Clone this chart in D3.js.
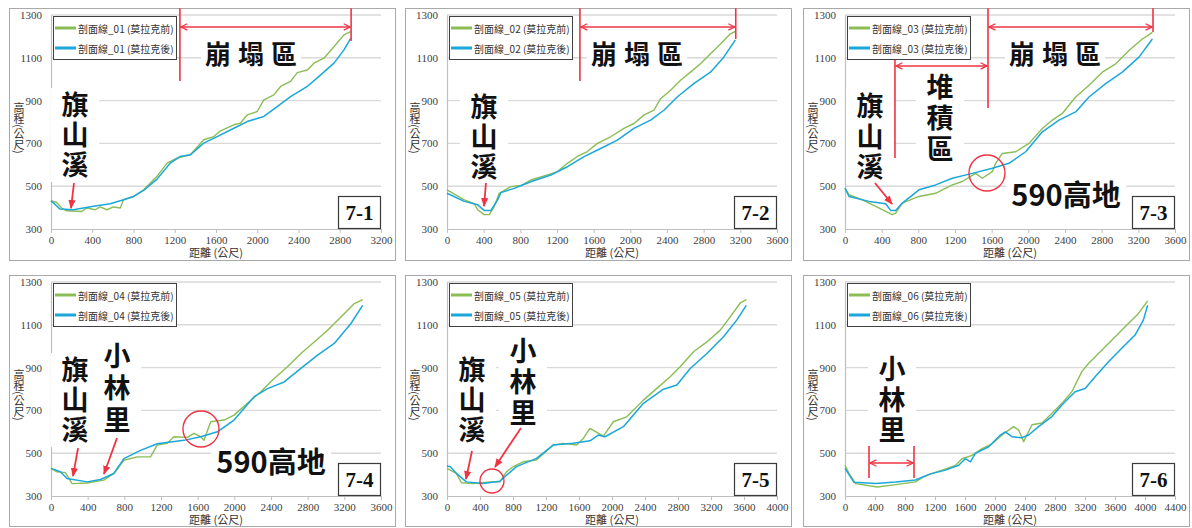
<!DOCTYPE html>
<html>
<head>
<meta charset="utf-8">
<script src="https://cdn.jsdelivr.net/npm/d3@7"></script>
<style>
body { margin: 0; background: #fff; }
svg { display: block; }
</style>
</head>
<body>
<div id="container"></div>
<script>
/**
 * DATA (distance in m, elevation in m)
 * */
const yTicks = [300, 500, 700, 900, 1100, 1300];
const xMaxes = [3200, 3600, 3600, 3600, 4000, 4400];
const panelLabels = ["7-1", "7-2", "7-3", "7-4", "7-5", "7-6"];
const lineNames = ["剖面線_01", "剖面線_02", "剖面線_03", "剖面線_04", "剖面線_05", "剖面線_06"];
const seriesSuffix = ["(莫拉克前)", "(莫拉克後)"];

const line01Before = [[0,432],[55,424],[104,398],[152,385],[298,382],[347,398],[428,390],[477,403],[541,390],[606,403],[671,398],[704,437],[801,452],[898,483],[1028,546],[1125,608],[1222,631],[1352,647],[1481,717],[1579,732],[1644,759],[1773,787],[1838,795],[1903,833],[2000,849],[2064,903],[2161,927],[2226,966],[2323,990],[2388,1031],[2485,1043],[2550,1075],[2647,1098],[2744,1152],[2841,1207],[2906,1222]];
const line01After = [[0,432],[88,393],[217,390],[412,406],[574,418],[704,437],[801,452],[898,480],[1028,533],[1157,608],[1254,639],[1352,647],[1481,701],[1611,732],[1773,771],[1903,802],[2064,826],[2193,872],[2323,919],[2485,966],[2615,1020],[2744,1075],[2841,1137],[2906,1191]];

const line02Before = [[0,483],[189,436],[298,418],[334,390],[406,367],[461,367],[515,405],[570,467],[697,498],[806,503],[914,529],[1096,553],[1205,568],[1314,607],[1422,639],[1531,662],[1640,700],[1785,731],[1930,770],[2039,793],[2148,832],[2257,855],[2330,909],[2439,948],[2548,995],[2656,1033],[2765,1072],[2874,1119],[2983,1164],[3092,1212],[3146,1224]];
const line02After = [[0,467],[189,429],[334,413],[406,387],[479,387],[552,436],[588,470],[733,490],[914,521],[1132,552],[1314,591],[1495,638],[1677,676],[1858,715],[2039,770],[2221,809],[2366,855],[2511,917],[2692,979],[2874,1033],[3019,1103],[3146,1184]];

const line03Before = [[0,491],[44,460],[189,436],[407,390],[516,367],[553,374],[625,421],[807,452],[989,467],[1062,483],[1171,506],[1280,522],[1425,560],[1498,537],[1607,568],[1644,607],[1716,653],[1862,661],[2007,700],[2153,770],[2262,809],[2371,840],[2516,917],[2662,972],[2807,1033],[2953,1072],[3098,1134],[3244,1188],[3353,1219]];
const line03After = [[0,491],[44,452],[262,429],[444,418],[498,387],[553,387],[625,421],[807,483],[989,506],[1171,537],[1389,560],[1607,584],[1789,607],[1971,661],[2153,754],[2335,809],[2516,847],[2662,917],[2844,979],[3025,1033],[3207,1103],[3353,1188]];

const line04Before = [[0,429],[66,413],[157,409],[230,358],[394,361],[576,374],[686,405],[795,467],[940,483],[1086,483],[1159,538],[1268,546],[1341,577],[1487,574],[1560,593],[1633,577],[1669,561],[1742,647],[1888,655],[1997,678],[2143,733],[2289,787],[2434,849],[2580,904],[2726,966],[2872,1020],[3017,1075],[3163,1137],[3309,1199],[3400,1218]];
const line04After = [[0,429],[102,413],[175,382],[394,366],[539,377],[686,405],[795,475],[977,513],[1159,544],[1450,560],[1633,577],[1815,600],[1997,655],[2216,764],[2362,802],[2544,833],[2726,896],[2908,958],[3090,1013],[3272,1106],[3400,1191]];

const line05Before = [[0,429],[113,406],[174,362],[316,358],[518,366],[640,366],[721,413],[802,437],[923,460],[1085,468],[1287,538],[1409,546],[1571,538],[1652,569],[1733,616],[1895,580],[2016,647],[2178,670],[2381,748],[2543,803],[2705,857],[2826,904],[2988,974],[3150,1020],[3312,1075],[3433,1137],[3555,1202],[3628,1218]];
const line05After = [[0,440],[40,437],[113,406],[235,366],[437,358],[640,369],[700,390],[842,437],[1085,476],[1287,538],[1530,546],[1733,558],[1834,585],[1915,577],[2138,624],[2381,733],[2624,799],[2786,819],[2948,896],[3150,966],[3352,1044],[3514,1123],[3628,1191]];

const line06Before = [[0,444],[53,406],[142,358],[430,342],[674,353],[940,366],[1029,386],[1162,406],[1295,421],[1472,443],[1561,474],[1694,490],[1827,521],[1961,544],[2094,585],[2182,608],[2249,624],[2315,608],[2382,554],[2493,633],[2627,641],[2804,702],[2892,733],[3025,787],[3158,881],[3247,919],[3380,966],[3513,1013],[3646,1059],[3778,1106],[3911,1152],[4035,1212]];
const line06After = [[0,429],[120,364],[408,358],[674,365],[940,375],[1118,401],[1339,421],[1517,444],[1606,475],[1672,460],[1738,499],[1916,530],[2071,585],[2137,600],[2226,577],[2359,572],[2448,585],[2581,624],[2759,671],[2892,725],[3069,787],[3202,802],[3335,857],[3513,927],[3690,990],[3867,1052],[3978,1122],[4035,1191]];

const beforeLines = [line01Before, line02Before, line03Before, line04Before, line05Before, line06Before];
const afterLines = [line01After, line02After, line03After, line04After, line05After, line06After];

// red annotations, placed in data units (distance, elevation)
const notes = [
  [
    {type: "vline", x: 1250, y1: 1332, y2: 992},
    {type: "vline", x: 2910, y1: 1332, y2: 1178},
    {type: "span", x1: 1250, x2: 2910, y: 1244},
    {type: "htext", text: "崩塌區", x: 1939, y: 1127},
    {type: "vtext", text: "旗山溪", x: 233, y1: 879, y2: 599},
    {type: "arrow", from: [223, 515], to: [194, 398]}
  ],
  [
    {type: "vline", x: 1450, y1: 1332, y2: 992},
    {type: "vline", x: 3150, y1: 1332, y2: 1188},
    {type: "span", x1: 1450, x2: 3150, y: 1244},
    {type: "htext", text: "崩塌區", x: 2073, y: 1127},
    {type: "vtext", text: "旗山溪", x: 404, y1: 870, y2: 590},
    {type: "arrow", from: [425, 515], to: [404, 407]}
  ],
  [
    {type: "vline", x: 1560, y1: 1332, y2: 865},
    {type: "vline", x: 3360, y1: 1332, y2: 1221},
    {type: "span", x1: 1560, x2: 3360, y: 1244},
    {type: "htext", text: "崩塌區", x: 2291, y: 1127},
    {type: "vline", x: 545, y1: 1090, y2: 632},
    {type: "span", x1: 545, x2: 1560, y: 1062},
    {type: "vtext", text: "堆積區", x: 1036, y1: 964, y2: 674},
    {type: "vtext", text: "旗山溪", x: 273, y1: 875, y2: 590},
    {type: "arrow", from: [327, 515], to: [513, 417]},
    {type: "circle", x: 1549, y: 562, r: 18},
    {type: "word", text: "590高地", x: 2411, y: 468}
  ],
  [
    {type: "vtext", text: "旗山溪", x: 262, y1: 889, y2: 608},
    {type: "vtext", text: "小林里", x: 720, y1: 955, y2: 655},
    {type: "arrow", from: [295, 524], to: [240, 393]},
    {type: "arrow", from: [720, 571], to: [578, 403]},
    {type: "circle", x: 1636, y: 613, r: 18},
    {type: "word", text: "590高地", x: 2400, y: 468}
  ],
  [
    {type: "vtext", text: "旗山溪", x: 303, y1: 889, y2: 608},
    {type: "vtext", text: "小林里", x: 921, y1: 978, y2: 688},
    {type: "arrow", from: [303, 510], to: [230, 379]},
    {type: "arrow", from: [897, 618], to: [582, 436]},
    {type: "circle", x: 545, y: 370, r: 12}
  ],
  [
    {type: "vtext", text: "小林里", x: 627, y1: 893, y2: 608},
    {type: "vline", x: 320, y1: 534, y2: 384},
    {type: "vline", x: 920, y1: 534, y2: 384},
    {type: "span", x1: 320, x2: 920, y: 454}
  ]
];

/**
 * LAYOUT
 * */
const width = 1192, height = 528;
const frameX = [9, 405, 803];
const frameY = [8, 275];
const frameH = [252, 251];
const frameW = 386;
const plotW = 330, plotH = 214;
const capSize = 27;

const GREEN = "#8bbd55";
const BLUE = "#1aa7da";
const RED = "#ef3343";
const serif = "'Liberation Serif', 'Times New Roman', serif";
const cjk = "'Noto Sans CJK TC', 'Noto Sans CJK SC', sans-serif";

const svg = d3.select("#container")
  .append("svg")
  .attr("width", width)
  .attr("height", height);

const defs = svg.append("defs");
defs.append("marker")
  .attr("id", "head")
  .attr("viewBox", "0 0 10 10")
  .attr("refX", 9).attr("refY", 5)
  .attr("markerWidth", 9).attr("markerHeight", 9)
  .attr("markerUnits", "userSpaceOnUse")
  .attr("orient", "auto-start-reverse")
  .append("path")
  .attr("d", "M0,1 L10,5 L0,9 Z")
  .attr("fill", RED);
defs.append("marker")
  .attr("id", "chev")
  .attr("viewBox", "0 0 10 10")
  .attr("refX", 9).attr("refY", 5)
  .attr("markerWidth", 8).attr("markerHeight", 8)
  .attr("markerUnits", "userSpaceOnUse")
  .attr("orient", "auto-start-reverse")
  .append("path")
  .attr("d", "M1,1 L9,5 L1,9")
  .attr("fill", "none")
  .attr("stroke", RED)
  .attr("stroke-width", 1.6);

xMaxes.forEach((xMax, i) => drawPanel(i, xMax));

function drawPanel(i, xMax) {
  const col = i % 3, row = Math.floor(i / 3);
  const fx = frameX[col], fy = frameY[row];
  const left = fx + 42, top = fy + 7;
  const bottom = top + plotH, right = left + plotW;

  const x = d3.scaleLinear().domain([0, xMax]).range([left, right]);
  const y = d3.scaleLinear().domain([300, 1300]).range([bottom, top]);

  const g = svg.append("g").attr("class", "panel");

  // frame
  g.append("rect")
    .attr("x", fx + 0.5).attr("y", fy + 0.5)
    .attr("width", frameW).attr("height", frameH[row])
    .attr("fill", "#fff")
    .attr("stroke", "#a9a9a9");

  // gridlines
  g.selectAll("line.grid")
    .data(yTicks.slice(1))
    .join("line")
    .attr("class", "grid")
    .attr("x1", left).attr("x2", right)
    .attr("y1", d => y(d)).attr("y2", d => y(d))
    .attr("stroke", "#d9d9d9")
    .attr("stroke-width", 1.4);

  // axes
  const xAxis = d3.axisBottom(x)
    .tickValues(d3.range(0, xMax + 1, 400))
    .tickFormat(d3.format("d"))
    .tickSize(4).tickSizeOuter(0).tickPadding(3);
  const gx = g.append("g").attr("transform", `translate(0,${bottom})`).call(xAxis);
  const yAxis = d3.axisLeft(y).tickValues(yTicks)
    .tickFormat(d3.format("d"))
    .tickSize(0).tickPadding(9);
  const gy = g.append("g").attr("transform", `translate(${left},0)`).call(yAxis);
  [gx, gy].forEach(a => {
    a.select(".domain").attr("stroke", "#bfbfbf").attr("stroke-width", 1.2);
    a.selectAll(".tick line").attr("stroke", "#bfbfbf");
    a.selectAll("text")
      .attr("font-family", serif)
      .attr("font-size", 11)
      .attr("fill", "#404040");
  });

  g.append("text")
    .attr("x", (left + right) / 2).attr("y", bottom + 28)
    .attr("text-anchor", "middle")
    .attr("font-family", cjk).attr("font-size", 11).attr("fill", "#333")
    .text("距離 (公尺)");
  g.append("text")
    .attr("x", fx + 10).attr("y", top + 113)
    .attr("text-anchor", "middle")
    .style("writing-mode", "vertical-rl")
    .attr("font-family", cjk).attr("font-size", 11).attr("fill", "#333")
    .text("高程(公尺)");

  // white patches behind the big captions
  const panelNotes = notes[i];
  panelNotes.forEach(n => {
    if (n.type === "vtext") {
      g.append("rect")
        .attr("x", x(n.x) - 24).attr("y", y(n.y1) - 17)
        .attr("width", 48).attr("height", y(n.y2) - y(n.y1) + 34)
        .attr("fill", "#fff");
    } else if (n.type === "htext") {
      g.append("rect")
        .attr("x", x(n.x) - 50).attr("y", y(n.y) - 15)
        .attr("width", 100).attr("height", 30)
        .attr("fill", "#fff");
    } else if (n.type === "word") {
      g.append("rect")
        .attr("x", x(n.x) - 60).attr("y", y(n.y) - 16)
        .attr("width", 120).attr("height", 32)
        .attr("fill", "#fff");
    }
  });

  // profile lines
  const line = d3.line().x(d => x(d[0])).y(d => y(d[1]));
  g.append("path")
    .datum(beforeLines[i])
    .attr("d", line)
    .attr("fill", "none")
    .attr("stroke", GREEN)
    .attr("stroke-width", 1.4)
    .attr("stroke-linejoin", "round");
  g.append("path")
    .datum(afterLines[i])
    .attr("d", line)
    .attr("fill", "none")
    .attr("stroke", BLUE)
    .attr("stroke-width", 1.5)
    .attr("stroke-linejoin", "round");

  // legend
  const lg = g.append("g").attr("transform", `translate(${left + 2},${top + 1})`);
  lg.append("rect")
    .attr("x", 0.5).attr("y", 0.5)
    .attr("width", 123).attr("height", 43)
    .attr("fill", "#fff")
    .attr("stroke", "#404040");
  const rows = lg.selectAll("g.row")
    .data(seriesSuffix)
    .join("g")
    .attr("class", "row")
    .attr("transform", (d, k) => `translate(0,${12 + k * 20})`);
  rows.append("line")
    .attr("x1", 2).attr("x2", 23)
    .attr("stroke", (d, k) => k === 0 ? GREEN : BLUE)
    .attr("stroke-width", 3);
  rows.append("text")
    .attr("x", 25).attr("y", 0)
    .attr("dominant-baseline", "central")
    .attr("font-family", cjk).attr("font-size", 10).attr("fill", "#333")
    .text(d => `${lineNames[i]} ${d}`);

  // red marks
  panelNotes.forEach(n => {
    if (n.type === "vline") {
      g.append("line")
        .attr("x1", x(n.x)).attr("x2", x(n.x))
        .attr("y1", y(n.y1)).attr("y2", y(n.y2))
        .attr("stroke", RED).attr("stroke-width", 1.6);
    } else if (n.type === "span") {
      g.append("line")
        .attr("x1", x(n.x1) + 1).attr("x2", x(n.x2) - 1)
        .attr("y1", y(n.y)).attr("y2", y(n.y))
        .attr("stroke", RED).attr("stroke-width", 1.4)
        .attr("marker-start", "url(#chev)")
        .attr("marker-end", "url(#chev)");
    } else if (n.type === "arrow") {
      g.append("line")
        .attr("x1", x(n.from[0])).attr("y1", y(n.from[1]))
        .attr("x2", x(n.to[0])).attr("y2", y(n.to[1]))
        .attr("stroke", RED).attr("stroke-width", 1.8)
        .attr("marker-end", "url(#head)");
    } else if (n.type === "circle") {
      g.append("circle")
        .attr("cx", x(n.x)).attr("cy", y(n.y)).attr("r", n.r)
        .attr("fill", "none")
        .attr("stroke", RED).attr("stroke-width", 1.4);
    }
  });

  // captions
  panelNotes.forEach(n => {
    if (n.type === "vtext") {
      const nChars = Array.from(n.text).length;
      const step = (y(n.y2) - y(n.y1)) / (nChars - 1);
      g.append("text")
        .attr("x", x(n.x))
        .attr("y", y(n.y1) - capSize / 2)
        .style("writing-mode", "vertical-rl")
        .attr("letter-spacing", step - capSize)
        .attr("font-family", cjk).attr("font-weight", 700)
        .attr("font-size", capSize).attr("fill", "#111")
        .text(n.text);
    } else if (n.type === "htext") {
      const chars = Array.from(n.text);
      g.append("text")
        .attr("text-anchor", "middle")
        .attr("dominant-baseline", "central")
        .attr("font-family", cjk).attr("font-weight", 700)
        .attr("font-size", 26).attr("fill", "#111")
        .selectAll("tspan")
        .data(chars)
        .join("tspan")
        .attr("x", (d, k) => x(n.x) + (k - 1) * 33)
        .attr("y", y(n.y))
        .text(d => d);
    } else if (n.type === "word") {
      g.append("text")
        .attr("x", x(n.x)).attr("y", y(n.y))
        .attr("text-anchor", "middle")
        .attr("dominant-baseline", "central")
        .attr("font-family", cjk).attr("font-weight", 700)
        .attr("font-size", 29).attr("fill", "#111")
        .text(n.text);
    }
  });

  // panel tag box
  const bw = 43, bh = 32;
  g.append("rect")
    .attr("x", right - bw + 0.5).attr("y", bottom - bh - 0.5)
    .attr("width", bw - 1).attr("height", bh)
    .attr("fill", "#fff")
    .attr("stroke", "#3a3a3a").attr("stroke-width", 1.2);
  g.append("text")
    .attr("x", right - bw / 2).attr("y", bottom - bh / 2)
    .attr("text-anchor", "middle")
    .attr("dominant-baseline", "central")
    .attr("font-family", serif).attr("font-weight", 700)
    .attr("font-size", 21).attr("fill", "#111")
    .text(panelLabels[i]);
}
</script>
</body>
</html>
